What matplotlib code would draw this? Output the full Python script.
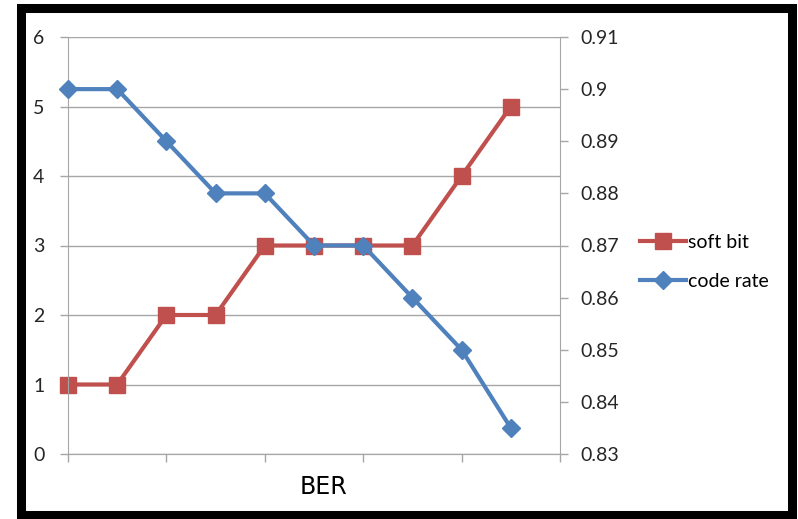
import matplotlib.pyplot as plt
from matplotlib.patches import Rectangle

plt.rcParams['font.family'] = ['Lato', 'DejaVu Sans']

positions = list(range(10))
soft_bit = [1, 1, 2, 2, 3, 3, 3, 3, 4, 5]
code_rate = [0.90, 0.90, 0.89, 0.88, 0.88, 0.87, 0.87, 0.86, 0.85, 0.835]

red = "#C0504D"
blue = "#4F81BD"
grid_gray = "#A6A6A6"

fig = plt.figure(figsize=(7.98, 5.19), dpi=100)
ax = fig.add_axes([68 / 798, 1 - 454 / 519, (560 - 68) / 798, (454 - 37) / 519])
ax2 = ax.twinx()

ax.set_xlim(0, 10)
ax.set_ylim(0, 6)
ax2.set_ylim(0.83, 0.91)

ax.set_yticks(range(7))
ax2.set_yticks([0.83, 0.84, 0.85, 0.86, 0.87, 0.88, 0.89, 0.90, 0.91])
ax2.set_yticklabels(["0.83", "0.84", "0.85", "0.86", "0.87", "0.88", "0.89", "0.9", "0.91"])
ax.set_xticks(range(0, 11, 2))
ax.set_xticklabels([])

ax.grid(axis="y", color=grid_gray, linewidth=1)
ax.set_axisbelow(True)

for a in (ax, ax2):
    a.spines["top"].set_visible(False)
    for side in ("left", "right", "bottom"):
        a.spines[side].set_color(grid_gray)
    a.tick_params(colors=grid_gray, labelcolor="#262626", labelsize=14, length=6, width=1)
ax.tick_params(axis="y", pad=11)
ax2.tick_params(axis="y", pad=9)
ax2.spines["left"].set_visible(False)
ax.spines["right"].set_visible(False)

# soft bit on the left scale, code rate drawn above it on the right scale
l1, = ax.plot(positions, soft_bit, color=red, linewidth=3, marker="s",
              markersize=11, label="soft bit", clip_on=False)
l2, = ax2.plot(positions, code_rate, color=blue, linewidth=3, marker="D",
               markersize=9, label="code rate", clip_on=False)

fig.text(324 / 798, 1 - 487 / 519, "BER", fontsize=17, fontfamily="DejaVu Sans",
         color="#000000", ha="center", va="center")

fig.legend(handles=[l1, l2], loc="center left", bbox_to_anchor=(622 / 798, 1 - 262 / 519),
           frameon=False, fontsize=14, handlelength=2.4, handletextpad=0.1,
           labelspacing=1.15)

# thick black frame around the whole chart
fig.patches.append(Rectangle((21 / 798, 1 - 515 / 519), (792 - 21) / 798, (515 - 8) / 519,
                             transform=fig.transFigure, fill=False,
                             edgecolor="black", linewidth=6.5, zorder=10))

fig.savefig("out.png", dpi=100)
